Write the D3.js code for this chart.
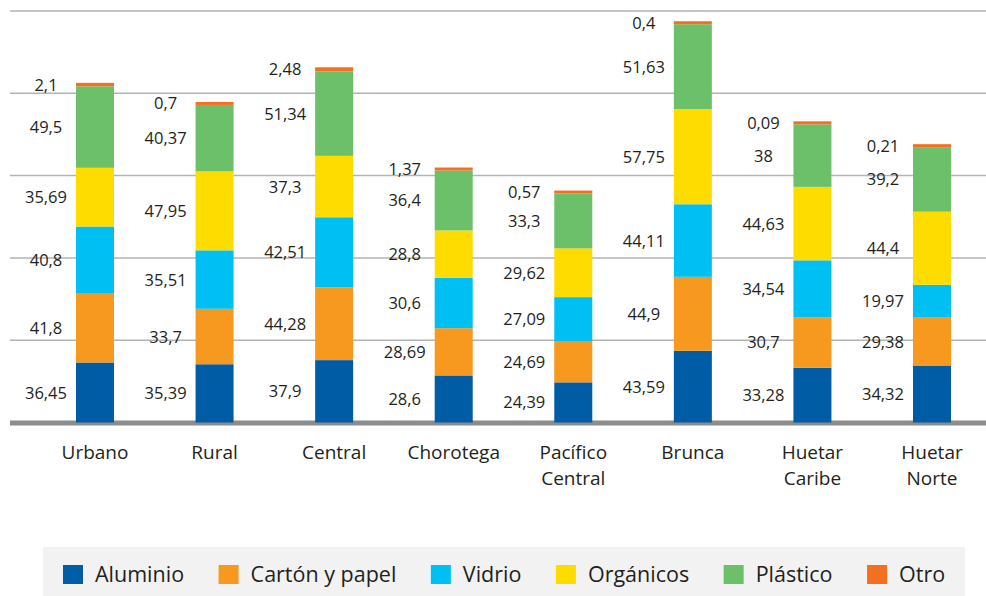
<!DOCTYPE html>
<head>
  <meta charset="utf-8">
  <title>Residuos por zona</title>
  <script src="https://d3js.org/d3.v7.min.js"></script>
  <style>
    body { margin:0; background:#fff; }
    svg { display:block; font-family:"Open Sans", sans-serif; }
  </style>
</head>

<body>
  <svg width="986" height="596"></svg>
  <script>
    var categories = ['Urbano', 'Rural', 'Central', 'Chorotega', 'Pacífico Central', 'Brunca', 'Huetar Caribe', 'Huetar Norte'];
    var seriesNames = ['Aluminio', 'Cartón y papel', 'Vidrio', 'Orgánicos', 'Plástico', 'Otro'];
    var aluminio  = [36.45, 35.39, 37.9, 28.6, 24.39, 43.59, 33.28, 34.32];
    var carton    = [41.8, 33.7, 44.28, 28.69, 24.69, 44.9, 30.7, 29.38];
    var vidrio    = [40.8, 35.51, 42.51, 30.6, 27.09, 44.11, 34.54, 19.97];
    var organicos = [35.69, 47.95, 37.3, 28.8, 29.62, 57.75, 44.63, 44.4];
    var plastico  = [49.5, 40.37, 51.34, 36.4, 33.3, 51.63, 38, 39.2];
    var otro      = [2.1, 0.7, 2.48, 1.37, 0.57, 0.4, 0.09, 0.21];
    var gridTicks = [50, 100, 150, 200, 250];

    var colors = ['#005ca5', '#f7991f', '#00c0f3', '#ffdc00', '#6cc06a', '#f37021'];
    var textColor = '#231f20';

    var rows = categories.map(function(c, i) {
      return {
        cat: c,
        'Aluminio': aluminio[i], 'Cartón y papel': carton[i], 'Vidrio': vidrio[i],
        'Orgánicos': organicos[i], 'Plástico': plastico[i], 'Otro': otro[i]
      };
    });
    var stacked = d3.stack().keys(seriesNames)(rows);

    var svg = d3.select('svg');
    var x = d3.scalePoint().domain(categories).range([95, 932]);
    var y = d3.scaleLinear().domain([0, 250]).range([422.5, 11]);
    var barW = 38;
    var fmt = function(v) { return String(v).replace('.', ','); };
    // tiny segments (Otro) still get a visible sliver, as in the original
    var segTop = function(d) { return y(d[0]) - Math.max(y(d[0]) - y(d[1]), 3); };

    // grid
    svg.append('g').selectAll('line').data(gridTicks).enter().append('line')
      .attr('x1', 10).attr('x2', 986)
      .attr('y1', d => y(d)).attr('y2', d => y(d))
      .attr('stroke', '#b3b3b3').attr('stroke-width', 1.5);

    // baseline
    svg.append('line')
      .attr('x1', 10).attr('x2', 986)
      .attr('y1', y(0) + 0.5).attr('y2', y(0) + 0.5)
      .attr('stroke', '#8c8c8c').attr('stroke-width', 5);

    // bars
    var layers = svg.append('g').selectAll('g').data(stacked).enter().append('g')
      .attr('fill', (d, i) => colors[i]);
    layers.selectAll('rect').data(d => d).enter().append('rect')
      .attr('x', d => x(d.data.cat) - barW / 2)
      .attr('width', barW)
      .attr('y', segTop)
      .attr('height', d => y(d[0]) - segTop(d));

    // value labels
    var labels = svg.append('g')
      .attr('font-size', 16.5).attr('fill', textColor).attr('text-anchor', 'middle');
    stacked.forEach(function(layer) {
      labels.selectAll(null).data(layer).enter().append('text')
        .attr('x', d => x(d.data.cat) - 49)
        .attr('y', d => (segTop(d) + y(d[0])) / 2 + 6)
        .text(d => fmt(d.data[layer.key]));
    });

    // category labels
    var xl = svg.append('g')
      .attr('font-size', 19).attr('fill', textColor).attr('text-anchor', 'middle');
    categories.forEach(function(c) {
      var t = xl.append('text').attr('x', x(c)).attr('y', 459);
      c.split(' ').forEach(function(w, j) {
        t.append('tspan').attr('x', x(c)).attr('dy', j === 0 ? 0 : 26).text(w);
      });
    });

    // legend
    svg.append('rect')
      .attr('x', 43).attr('y', 547).attr('width', 922).attr('height', 49)
      .attr('fill', '#f2f2f2');
    var lx = 63;
    seriesNames.forEach(function(s, i) {
      svg.append('rect')
        .attr('x', lx).attr('y', 565).attr('width', 20).attr('height', 19)
        .attr('fill', colors[i]);
      var t = svg.append('text')
        .attr('x', lx + 32).attr('y', 582)
        .attr('font-size', 21.5).attr('fill', textColor)
        .text(s);
      lx += 32 + t.node().getComputedTextLength() + 34.5;
    });
  </script>
</body>
